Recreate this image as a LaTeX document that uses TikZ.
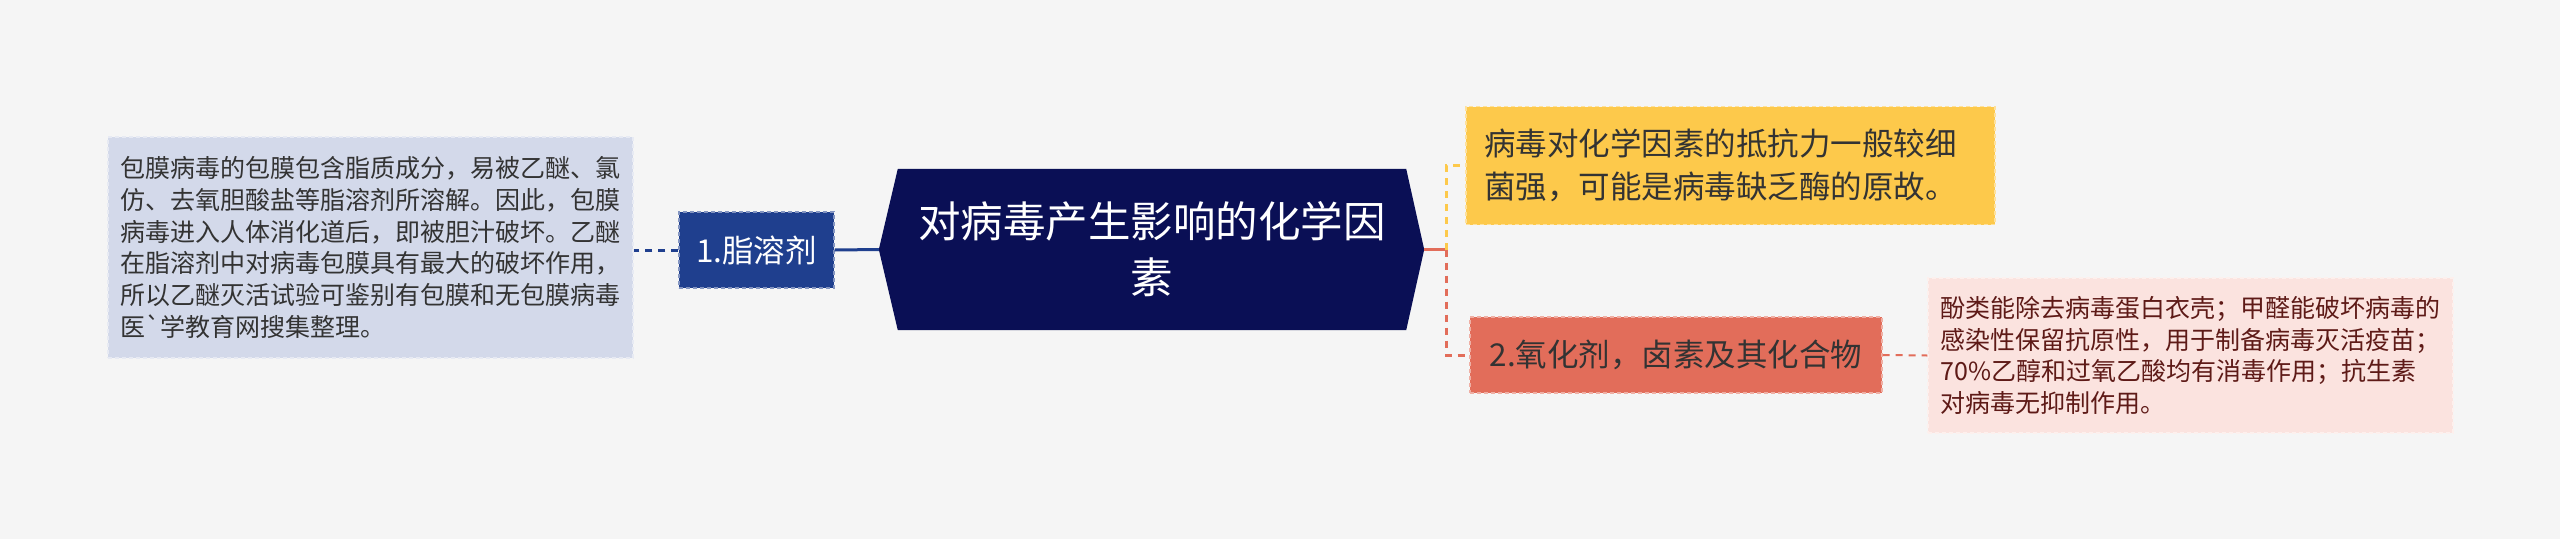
\documentclass[tikz,border=0pt]{standalone}
\usepackage{fontspec}
\newfontfamily\cjk{Noto Sans CJK SC}
\usetikzlibrary{backgrounds,calc}
\definecolor{bgc}{HTML}{F5F5F5}
\definecolor{navy}{HTML}{0A0F55}
\definecolor{blueb}{HTML}{1F3F8E}
\definecolor{lbox}{HTML}{D3D9EA}
\definecolor{yel}{HTML}{FDC94B}
\definecolor{redb}{HTML}{E26D5A}
\definecolor{pink}{HTML}{FBE3DF}
\definecolor{txt}{HTML}{333333}
\definecolor{ptxt}{HTML}{5E1A17}
\begin{document}
\begin{tikzpicture}[x=1pt,y=-1pt,
  box/.style={rectangle, draw=#1!55!white, fill=#1, dash pattern=on 4pt off 3pt, line width=1.2pt},
  small/.style={font=\cjk\fontsize{25pt}{31.7pt}\selectfont, align=left},
  mid/.style={font=\cjk\fontsize{31.5pt}{43pt}\selectfont},
  conn/.style={line width=3pt, draw=#1},
  dconn/.style={line width=3pt, draw=#1, dash pattern=on 7pt off 6pt}]
\useasboundingbox (0,0) rectangle (2560,539);

% centre node
\node[font=\cjk\fontsize{42.5pt}{56pt}\selectfont, text=white, align=center,
      minimum width=508pt, minimum height=161pt, inner sep=0pt] (ctr) at (1152,249.5)
      {对病毒产生影响的化学因\\素};
\coordinate (ctrL) at ($(ctr.west)+(-19pt,0)$);
\coordinate (ctrR) at ($(ctr.east)+(18pt,0)$);
\begin{scope}[on background layer]
\fill[bgc] (0,0) rectangle (2560,539);
\fill[navy] (ctr.north west) -- (ctr.north east) -- (ctrR) -- (ctr.south east)
  -- (ctr.south west) -- (ctrL) -- cycle;
\end{scope}

% left branch
\node[box=blueb, mid, text=white, minimum width=155pt, minimum height=76pt, inner sep=0pt] (b1) at (756.5,250) {1.脂溶剂};
\node[box=lbox, small, text=txt, text width=501pt, inner xsep=12pt, minimum height=221pt] (lb) at (370.5,247.5)
 {包膜病毒的包膜包含脂质成分，易被乙醚、氯\\
  仿、去氧胆酸盐等脂溶剂所溶解。因此，包膜\\
  病毒进入人体消化道后，即被胆汁破坏。乙醚\\
  在脂溶剂中对病毒包膜具有最大的破坏作用，\\
  所以乙醚灭活试验可鉴别有包膜和无包膜病毒\\
  医`学教育网搜集整理。};

% right branch
\node[box=yel, mid, text=txt, align=left, text width=493pt, inner xsep=18pt, minimum height=118pt] (y1) at (1730.5,165.5)
 {病毒对化学因素的抵抗力一般较细\\菌强，可能是病毒缺乏酶的原故。};
\node[box=redb, mid, text=txt, minimum width=412pt, minimum height=76pt, inner sep=0pt] (r1) at (1676,355)
 {2.氧化剂，卤素及其化合物};
\node[box=pink, small, text=ptxt, text width=500pt, inner xsep=12.5pt, minimum height=155pt] (p1) at (2190.5,355.5)
 {酚类能除去病毒蛋白衣壳；甲醛能破坏病毒的\\
  感染性保留抗原性，用于制备病毒灭活疫苗；\\
  70\%乙醇和过氧乙酸均有消毒作用；抗生素\\
  对病毒无抑制作用。};

% connectors
\coordinate (jn) at (1446,249.5);
\draw[dconn=blueb] (b1.west) -- (b1.west -| lb.east);
\draw[conn=blueb] (b1.east) -- (ctrL);
\draw[conn=redb] (ctrR) -- (jn);
\draw[dconn=yel] (jn) |- (y1.west);
\draw[dconn=redb] (jn) |- (r1.west);
\draw[dconn=redb, line width=2pt] (r1.east) -- (p1.west);
\end{tikzpicture}
\end{document}
